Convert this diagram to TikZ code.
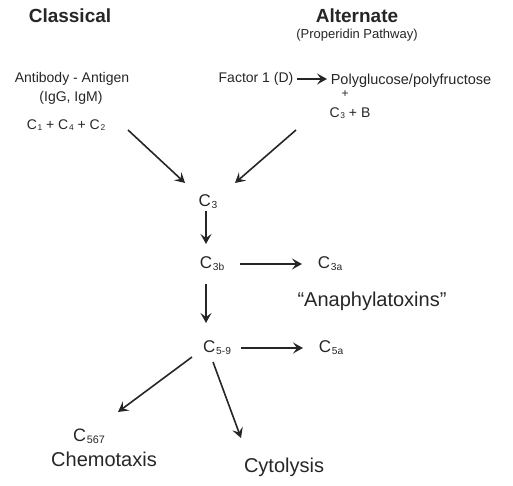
\documentclass[tikz,border=0pt]{standalone}
\usepackage{fontspec}
\setmainfont{Liberation Sans}
\usepackage{tikz}
\usetikzlibrary{arrows.meta}
\tikzset{flow/.style={-{Stealth[length=10pt,width=11pt,inset=4pt]},line width=1.6pt,black!85},
         lbl/.style={inner sep=0pt,text=black!85}}
\newcommand{\fs}[1]{\fontsize{#1}{#1}\selectfont}
\newcommand{\lo}[1]{\kern0.05em\raisebox{-0.12em}{\scalebox{0.6}{#1}}}

\begin{document}
\begin{tikzpicture}[x=1pt,y=-1pt] % pixel coordinates, y downwards
    \useasboundingbox (0,0) rectangle (513,486);
    % headings
    \node[lbl,font=\fs{19}\bfseries] (classical) at (70,16) {Classical};
    \node[lbl,font=\fs{19}\bfseries] (alternate) at (357,16) {Alternate};
    \node[lbl,font=\fs{13}] (properidin) at (357,35) {(Properidin Pathway)};
    % classical side
    \node[lbl,font=\fs{14}] (antibody) at (72,79) {Antibody - Antigen};
    \node[lbl,font=\fs{14}] (igg) at (71,98) {(IgG, IgM)};
    \node[lbl,font=\fs{14}] (cl) at (66,125) {C\lo{1} + C\lo{4} + C\lo{2}};
    % alternate side
    \node[lbl,font=\fs{14}] (factor) at (256,79) {Factor 1 (D)};
    \node[lbl,font=\fs{14.5}] (poly) at (411,81) {Polyglucose/polyfructose};
    \node[lbl,font=\fs{12}] (plus) at (345,94) {+};
    \node[lbl,font=\fs{14}] (alt) at (350,113) {C\lo{3} + B};
    % cascade
    \node[lbl,font=\fs{17}] (c3) at (208,202) {C\lo{3}};
    \node[lbl,font=\fs{17}] (c3b) at (212,264) {C\lo{3b}};
    \node[lbl,font=\fs{17}] (c3a) at (330,264) {C\lo{3a}};
    \node[lbl,font=\fs{20}] (anaph) at (372,301) {``Anaphylatoxins''};
    \node[lbl,font=\fs{17}] (c5) at (217,348) {C\lo{5-9}};
    \node[lbl,font=\fs{17}] (c5a) at (331,348) {C\lo{5a}};
    \node[lbl,font=\fs{18}] (c567) at (89,436) {C\lo{567}};
    \node[lbl,font=\fs{20}] (chemo) at (104,459) {Chemotaxis};
    \node[lbl,font=\fs{20}] (cyto) at (284,467) {Cytolysis};
    % arrows
    \draw[flow] ([shift={(41,0)}]factor.center) -- ([shift={(-84,-2)}]poly.center);
    \draw[flow] ([shift={(62,5)}]cl.center) -- ([shift={(-23,-19)}]c3.center);
    \draw[flow] ([shift={(-54,17)}]alt.center) -- ([shift={(27,-19)}]c3.center);
    \draw[flow] ([shift={(-2,9)}]c3.center) -- ([shift={(-6,-20)}]c3b.center);
    \draw[flow] ([shift={(28,0)}]c3b.center) -- ([shift={(-28,0)}]c3a.center);
    \draw[flow] ([shift={(-6,20)}]c3b.center) -- ([shift={(-11,-25)}]c5.center);
    \draw[flow] ([shift={(24,0)}]c5.center) -- ([shift={(-28,0)}]c5a.center);
    \draw[flow] ([shift={(-25,9)}]c5.center) -- ([shift={(29,-24)}]c567.center);
    \draw[flow] ([shift={(-4,14)}]c5.center) -- ([shift={(-43,-29)}]cyto.center);
\end{tikzpicture}
\end{document}
